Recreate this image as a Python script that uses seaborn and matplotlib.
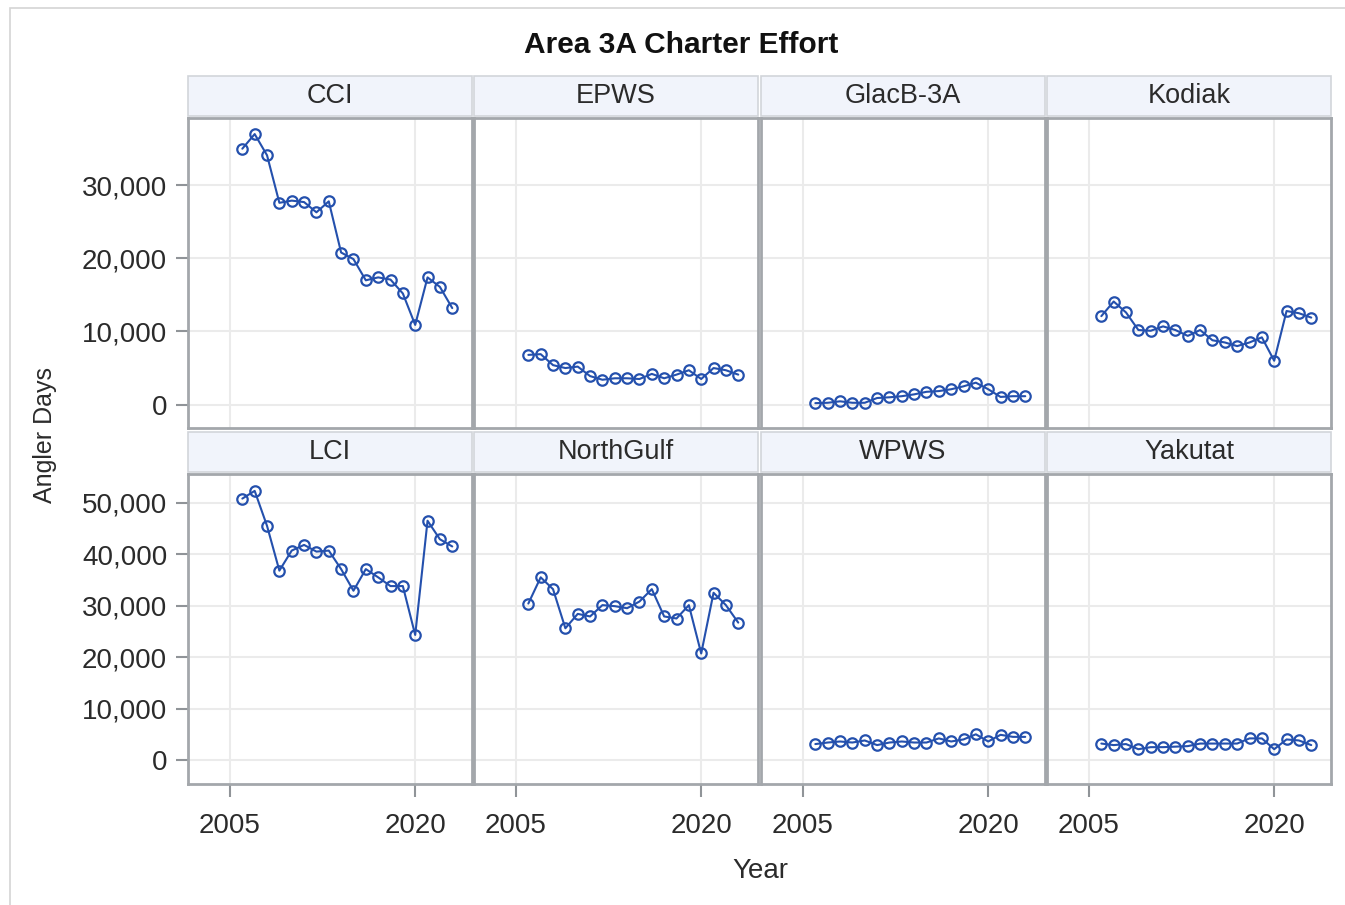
import matplotlib.pyplot as plt
from matplotlib.patches import Rectangle
from matplotlib.ticker import FuncFormatter
import pandas as pd
import seaborn as sns

# Angler days per year
years = list(range(2006, 2024))
areas = ["CCI", "EPWS", "GlacB-3A", "Kodiak", "LCI", "NorthGulf", "WPWS", "Yakutat"]

cci = [35000, 37000, 34100, 27600, 27900, 27700, 26300, 27800, 20800, 19900,
       17000, 17400, 17100, 15200, 10900, 17400, 16100, 13200]
epws = [6800, 6900, 5400, 5000, 5200, 3900, 3400, 3600, 3600, 3500,
        4200, 3600, 4100, 4700, 3500, 5000, 4700, 4100]
glacb = [200, 250, 450, 250, 250, 900, 1000, 1150, 1400, 1750,
         1850, 2100, 2500, 3000, 2100, 1050, 1150, 1150]
kodiak = [12100, 14100, 12600, 10200, 10100, 10700, 10200, 9400, 10200, 8800,
          8500, 8000, 8500, 9200, 6000, 12800, 12500, 11900]
lci = [50800, 52300, 45500, 36800, 40700, 41800, 40500, 40700, 37100, 32900,
       37100, 35500, 33800, 33800, 24300, 46500, 42900, 41500]
northgulf = [30400, 35500, 33200, 25600, 28400, 27900, 30100, 29900, 29500, 30800,
             33200, 27900, 27500, 30100, 20700, 32500, 30100, 26700]
wpws = [3100, 3400, 3600, 3400, 3800, 2900, 3400, 3600, 3400, 3400,
        4200, 3600, 4000, 5000, 3600, 4900, 4500, 4500]
yakutat = [3200, 2900, 3100, 2100, 2500, 2500, 2600, 2700, 3200, 3200,
           3200, 3200, 4200, 4200, 2100, 4000, 3800, 2900]

row_yticks = [[0, 10000, 20000, 30000], [0, 10000, 20000, 30000, 40000, 50000]]
row_ylims = [(-3200, 39200), (-4660, 55580)]
xticks = [2005, 2020]

LINE = "#2450ad"
FRAME = "#a3a7ab"
GRID = "#ebebeb"

series = [cci, epws, glacb, kodiak, lci, northgulf, wpws, yakutat]
df = pd.concat(
    [pd.DataFrame({"Year": years, "AnglerDays": vals, "Area": name})
     for name, vals in zip(areas, series)],
    ignore_index=True,
)


def build_panels(df, path="out.png"):
    """Draws the 2x4 paneled line chart and saves it."""
    sns.set_theme(style="white")
    plt.rcParams["font.family"] = ["Liberation Sans", "DejaVu Sans"]

    W, H = 1345, 905
    fig = plt.figure(figsize=(W / 100, H / 100), dpi=100)
    fig.patches.append(Rectangle((10 / W, -0.01), 1.0, 1 - 8 / H + 0.01,
                                 transform=fig.transFigure, fill=False,
                                 edgecolor="#d4d4d4", linewidth=1.2))

    col_left = [188, 474, 761, 1047]
    pw, ph = 284, 310
    row_top = [118, 474]
    strip_h = 40

    fmt = FuncFormatter(lambda v, p: f"{int(v):,}")
    for i, area in enumerate(areas):
        r, c = divmod(i, 4)
        ax = fig.add_axes([col_left[c] / W, 1 - (row_top[r] + ph) / H, pw / W, ph / H])
        sub = df[df["Area"] == area]
        sns.lineplot(data=sub, x="Year", y="AnglerDays", ax=ax, color=LINE,
                     linewidth=1.5, marker="o", markersize=7.5,
                     markerfacecolor="none", markeredgecolor=LINE,
                     markeredgewidth=1.6)
        ax.set_xlim(2001.6, 2024.6)
        ax.set_ylim(*row_ylims[r])
        ax.set_xticks(xticks)
        ax.set_yticks(row_yticks[r])
        ax.yaxis.set_major_formatter(fmt)
        ax.grid(True, color=GRID, linewidth=1.5)
        ax.set_axisbelow(True)
        for s in ax.spines.values():
            s.set_color(FRAME)
            s.set_linewidth(2)
        ax.set_xlabel("")
        ax.set_ylabel("")
        ax.tick_params(axis="both", which="both", labelsize=20, colors="#909498",
                       labelcolor="#2b2b2b", length=9, width=1.5, direction="out")
        ax.tick_params(left=(c == 0), labelleft=(c == 0),
                       bottom=(r == 1), labelbottom=(r == 1))
        ax.tick_params(axis="x", pad=12)
        ax.tick_params(axis="y", pad=6)

        # header strip above the panel
        sy = 1 - (row_top[r] - 2) / H
        fig.patches.append(Rectangle((col_left[c] / W, sy), pw / W, strip_h / H,
                                     transform=fig.transFigure, facecolor="#f1f4fb",
                                     edgecolor="#d2d5da", linewidth=1.2))
        fig.text((col_left[c] + pw / 2) / W, sy + strip_h / 2 / H, area,
                 ha="center", va="center", fontsize=19.5, color="#2b2b2b")

    fig.text(681 / W, 1 - 45 / H, "Area 3A Charter Effort", ha="center",
             va="center", fontsize=21.5, fontweight="bold", color="#111111")
    fig.text(760 / W, 1 - 871 / H, "Year", ha="center", va="center",
             fontsize=20, color="#2b2b2b")
    fig.text(45 / W, 1 - 435 / H, "Angler Days", ha="center", va="center",
             rotation=90, fontsize=18, color="#2b2b2b")

    fig.savefig(path, dpi=100)
    plt.close(fig)


build_panels(df)
